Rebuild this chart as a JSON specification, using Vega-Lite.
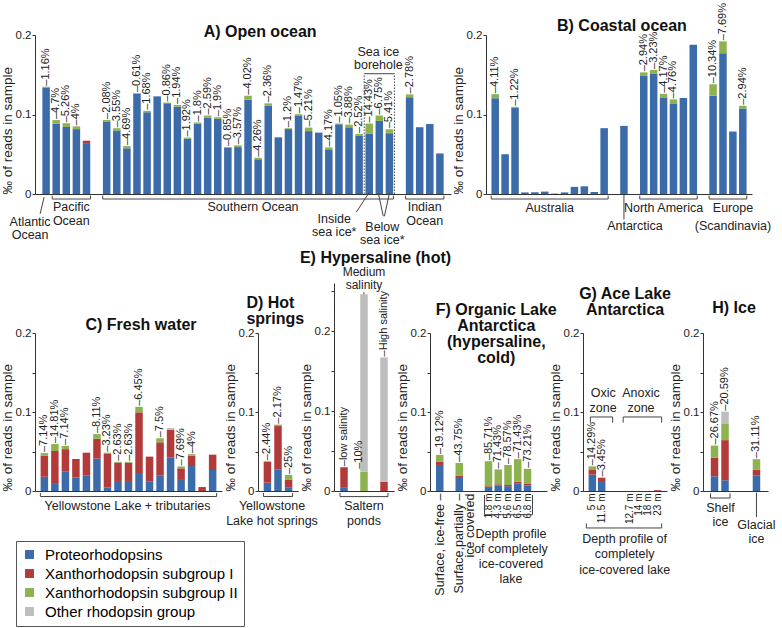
{
"$schema":"https://vega.github.io/schema/vega-lite/v6.json",
"padding":{"left":0,"top":3,"right":2,"bottom":2},
"config":{
 "font":"Liberation Sans",
 "view":{"stroke":null},
 "axis":{"grid":false,"domainColor":"#333","tickColor":"#333","labelColor":"#222","titleColor":"#222","labelOverlap":false},
 "axisY":{"tickSize":3,"labelFontSize":11.5,"titleFontSize":13.5,"titleFontWeight":"normal","labelPadding":1,"titlePadding":1,"titleAnchor":"start"},
 "axisX":{"ticks":false,"labels":false},
 "text":{"color":"#222","fontSize":12.5},
 "rule":{"color":"#444"},
 "legend":{"orient":"none","legendX":-19,"legendY":506,"labelFontSize":15,"symbolType":"square","symbolSize":80,"strokeColor":"#555","padding":6,"rowPadding":3,"labelOffset":8,"labelLimit":300}
},
"datasets":{
 "A":[
  {"b":"a01","P":0.1334,"XII":0.0016,"lab":"–1.16%"},
  {"b":"a02","P":0.0886,"XII":0.0044,"lab":"–4.7%"},
  {"b":"a03","P":0.0843,"XII":0.0047,"lab":"–5.26%"},
  {"b":"a04","P":0.0816,"XII":0.0034,"lab":"–4%"},
  {"b":"a05","P":0.064,"XI":0.003},
  {"b":"s01","P":0.0913,"XII":0.0019,"lab":"–2.08%"},
  {"b":"s02","P":0.0798,"XII":0.0029,"lab":"–3.55%"},
  {"b":"s03","P":0.0575,"XII":0.0028,"lab":"–4.69%"},
  {"b":"s04","P":0.1262,"XII":0.0008,"lab":"–0.61%"},
  {"b":"s05","P":0.1028,"XII":0.0018,"lab":"–1.68%"},
  {"b":"s06","P":0.1228},
  {"b":"s07","P":0.114,"XII":0.001,"lab":"–0.86%"},
  {"b":"s08","P":0.1098,"XII":0.0022,"lab":"–1.94%"},
  {"b":"s09","P":0.0696,"XII":0.0014,"lab":"–1.92%"},
  {"b":"s10","P":0.0884,"XII":0.0016,"lab":"–1.8%"},
  {"b":"s11","P":0.0961,"XII":0.0026,"lab":"–2.59%"},
  {"b":"s12","P":0.0948,"XII":0.0018,"lab":"–1.9%"},
  {"b":"s13","P":0.0585,"XII":0.0005,"lab":"–0.85%"},
  {"b":"s14","P":0.059,"XII":0.0022,"lab":"–3.57%"},
  {"b":"s15","P":0.1186,"XII":0.005,"lab":"–4.02%"},
  {"b":"s16","P":0.0437,"XII":0.0019,"lab":"–4.26%"},
  {"b":"s17","P":0.1113,"XII":0.0027,"lab":"–2.36%"},
  {"b":"s18","P":0.0713},
  {"b":"s19","P":0.0817,"XII":0.001,"lab":"–1.2%"},
  {"b":"s20","P":0.0989,"XII":0.0015,"lab":"–1.47%"},
  {"b":"s21","P":0.0791,"XII":0.0044,"lab":"–5.21%"},
  {"b":"s22","P":0.0772},
  {"b":"s23","P":0.0562,"XII":0.0024,"lab":"–4.17%"},
  {"b":"s24","P":0.0877,"XII":0.0009,"lab":"–1.05%"},
  {"b":"s25","P":0.0839,"XII":0.0034,"lab":"–3.88%"},
  {"b":"s26","P":0.0736,"XII":0.0019,"lab":"–2.52%"},
  {"b":"s27","P":0.0758,"XII":0.0128,"lab":"–14.43%"},
  {"b":"s28","P":0.092,"XII":0.0067,"lab":"–6.75%"},
  {"b":"s29","P":0.0763,"XI":0.0007,"XII":0.0044,"lab":"–5.41%"},
  {"b":"i01","P":0.1218,"XII":0.0035,"lab":"–2.78%"},
  {"b":"i02","P":0.084},
  {"b":"i03","P":0.088},
  {"b":"i04","P":0.051}
 ],
 "B":[
  {"b":"b01","P":0.1204,"XII":0.0052,"lab":"–4.11%"},
  {"b":"b02","P":0.05},
  {"b":"b03","P":0.1084,"XII":0.0013,"lab":"–1.22%"},
  {"b":"b04","P":0.002},
  {"b":"b05","P":0.0022},
  {"b":"b06","P":0.003},
  {"b":"b07","P":0.0005},
  {"b":"b08","P":0.002},
  {"b":"b09","P":0.009},
  {"b":"b10","P":0.0097},
  {"b":"b11","P":0.0025},
  {"b":"b12","P":0.0828},
  {"b":"b13","P":0.0857},
  {"b":"b14","P":0.1485,"XII":0.0045,"lab":"–2.94%"},
  {"b":"b15","P":0.151,"XII":0.005,"lab":"–3.23%"},
  {"b":"b16","P":0.1207,"XII":0.0053,"lab":"–4.17%"},
  {"b":"b17","P":0.1133,"XII":0.0057,"lab":"–4.76%"},
  {"b":"b18","P":0.1206},
  {"b":"b19","P":0.1878},
  {"b":"b20","P":0.1237,"XII":0.0143,"lab":"–10.34%"},
  {"b":"b21","P":0.1772,"XII":0.0148,"lab":"–7.69%"},
  {"b":"b22","P":0.0786},
  {"b":"b23","P":0.1077,"XII":0.0033,"lab":"–2.94%"}
 ],
 "C":[
  {"b":"c01","P":0.018,"XI":0.0265,"XII":0.0035,"lab":"–7.14%"},
  {"b":"c02","P":0.009,"XI":0.0416,"XII":0.0088,"lab":"–14.81%"},
  {"b":"c03","P":0.025,"XI":0.028,"XII":0.0041,"lab":"–7.14%"},
  {"b":"c04","P":0.0173,"XI":0.0232},
  {"b":"c05","P":0.0194,"XI":0.0291},
  {"b":"c06","P":0.041,"XI":0.0252,"XII":0.0058,"lab":"–8.11%"},
  {"b":"c07","P":0.0046,"XI":0.0423,"XII":0.0016,"lab":"–3.23%"},
  {"b":"c08","P":0.0127,"XI":0.0232,"XII":0.001,"lab":"–2.63%"},
  {"b":"c09","P":0.0127,"XI":0.0232,"XII":0.001,"lab":"–2.63%"},
  {"b":"c10","P":0.0228,"XI":0.0768,"XII":0.0069,"lab":"–6.45%"},
  {"b":"c11","P":0.0118,"XI":0.0317},
  {"b":"c12","P":0.0194,"XI":0.0422,"XII":0.0051,"lab":"–7.5%"},
  {"b":"c13","P":0.0426,"XI":0.0346,"other":0.0025},
  {"b":"c14","P":0.014,"XI":0.0147,"XII":0.0024,"lab":"–7.69%"},
  {"b":"c15","P":0.0316,"XI":0.0131,"XII":0.0019,"lab":"–4%"},
  {"b":"c16","XI":0.005},
  {"b":"c17","P":0.0266,"XI":0.0194}
 ],
 "D":[
  {"b":"d01","P":0.0106,"XI":0.0263,"XII":0.0009,"lab":"–2.44%"},
  {"b":"d02","P":0.027,"XI":0.0552,"XII":0.0018,"lab":"–2.17%"},
  {"b":"d03","P":0.0042,"XI":0.0104,"XII":0.0055,"lab":"–25%"}
 ],
 "E":[
  {"b":"e01","P":0.004,"XI":0.0257,"lab":"–low salinity"},
  {"b":"e02","XII":0.024,"other":0.222},
  {"b":"e03","XI":0.0114,"other":0.1556,"lab":"–High salinity"}
 ],
 "F":[
  {"b":"f01","P":0.033,"XI":0.0039,"XII":0.0088,"lab":"–19.12%"},
  {"b":"f02","P":0.0165,"XI":0.003,"XII":0.016,"lab":"–43.75%"},
  {"b":"f03","P":0.005,"XI":0.001,"XII":0.0317,"lab":"–85.71%"},
  {"b":"f04","P":0.0068,"XI":0.0017,"XII":0.0188,"lab":"–71.43%"},
  {"b":"f05","P":0.006,"XI":0.0016,"XII":0.0253,"lab":"–78.57%"},
  {"b":"f06","P":0.0097,"XI":0.0022,"XII":0.0284,"lab":"–71.43%"},
  {"b":"f07","P":0.0068,"XI":0.0021,"XII":0.0192,"lab":"–73.21%"}
 ],
 "G":[
  {"b":"g01","P":0.0208,"XI":0.0058,"XII":0.0046,"lab":"–14.29%"},
  {"b":"g02","P":0.0127,"XI":0.0038,"XII":0.0006,"lab":"–3.45%"},
  {"b":"g03"},{"b":"g04"},{"b":"g05"},
  {"b":"g06","XI":0.001}
 ],
 "H":[
  {"b":"h01","P":0.0186,"XI":0.0234,"XII":0.0155,"lab":"–26.67%"},
  {"b":"h02","P":0.0136,"XI":0.0508,"XII":0.0212,"other":0.0148,"lab":"–20.59%"},
  {"b":"h03","P":0.0199,"XI":0.0071,"XII":0.0133,"lab":"–31.11%"}
 ],
 "A_br":[{"b1":"a02","b2":"a05"},{"b1":"s01","b2":"s29"},{"b1":"i01","b2":"i04"}],
 "B_br":[{"b1":"b01","b2":"b12"},{"b1":"b14","b2":"b19"},{"b1":"b20","b2":"b23"}],
 "C_br":[{"b1":"c01","b2":"c17"}],
 "D_br":[{"b1":"d01","b2":"d03"}],
 "E_br":[{"b1":"e01","b2":"e03"}],
 "H_br":[{"b1":"h01","b2":"h02"}]
},
"spacing":2,
"resolve":{"scale":{"color":"shared"}},
"vconcat":[
{"hconcat":[
 {"width":416,"height":159,
  "layer":[
   {"data":{"name":"A"},"mark":{"type":"bar","width":7.5},
    "transform":[{"fold":["P","XI","XII","other"],"as":["k","v"]},{"filter":"datum.v > 0"}],
    "encoding":{
     "x":{"field":"b","type":"nominal","scale":{"domain":["a01","a02","a03","a04","a05","ga","s01","s02","s03","s04","s05","s06","s07","s08","s09","s10","s11","s12","s13","s14","s15","s16","s17","s18","s19","s20","s21","s22","s23","s24","s25","s26","s27","s28","s29","gb","i01","i02","i03","i04"],"paddingInner":0,"paddingOuter":0.6},"axis":{"title":null}},
     "y":{"field":"v","type":"quantitative","stack":"zero","scale":{"domain":[0,0.2],"nice":false},"axis":{"title":"‰ of reads in sample","values":[0,0.025,0.05,0.075,0.1,0.125,0.15,0.175,0.2],"labelExpr":"datum.value==0?'0':datum.value==0.1?'0.1':datum.value==0.2?'0.2':''"}},
     "order":{"field":"k","type":"ordinal","sort":"ascending"},
     "color":{"field":"k","type":"nominal","scale":{"domain":["P","XI","XII","other"],"range":["#3b6ba8","#b33a3a","#8db24f","#bdbdbd"]},"legend":{"title":null,"labelExpr":"datum.value=='P'?'Proteorhodopsins':datum.value=='XI'?'Xanthorhodopsin subgroup I':datum.value=='XII'?'Xanthorhodopsin subgroup II':'Other rhodopsin group'"}}
    }},
   {"data":{"name":"A"},"transform":[{"filter":"isValid(datum.lab)"},{"fold":["P","XI","XII","other"],"as":["k","v"]},{"aggregate":[{"op":"sum","field":"v","as":"tot"}],"groupby":["b","lab"]}],
    "mark":{"type":"text","angle":270,"align":"left","baseline":"middle","fontSize":11,"dx":1},
    "encoding":{"x":{"field":"b","type":"nominal"},"y":{"field":"tot","type":"quantitative"},"text":{"field":"lab"}}},
   {"data":{"values":[{}]},"mark":{"type":"text","fontSize":16,"fontWeight":"bold","color":"#111","dx":2},"encoding":{"x":{"datum":"s16","type":"nominal"},"y":{"datum":0.2044},"text":{"value":"A) Open ocean"}}},
   {"data":{"name":"A_br"},"mark":{"type":"rule","xOffset":-4,"x2Offset":4},"encoding":{"x":{"field":"b1","type":"nominal"},"x2":{"field":"b2"},"y":{"datum":-0.0063}}},
   {"data":{"name":"A_br"},"mark":{"type":"rule","xOffset":-4},"encoding":{"x":{"field":"b1","type":"nominal"},"y":{"datum":-0.0063},"y2":{"datum":-0.002}}},
   {"data":{"name":"A_br"},"mark":{"type":"rule","xOffset":4},"encoding":{"x":{"field":"b2","type":"nominal"},"y":{"datum":-0.0063},"y2":{"datum":-0.002}}},
   {"data":{"values":[{}]},"mark":{"type":"text","baseline":"top","dx":5,"lineHeight":14},"encoding":{"x":{"datum":"a03","type":"nominal"},"y":{"datum":-0.0088},"text":{"value":["Pacific","Ocean"]}}},
   {"data":{"values":[{}]},"mark":{"type":"text","baseline":"top","dx":5},"encoding":{"x":{"datum":"s15","type":"nominal"},"y":{"datum":-0.0088},"text":{"value":"Southern Ocean"}}},
   {"data":{"values":[{}]},"mark":{"type":"text","baseline":"top","dx":5,"lineHeight":14},"encoding":{"x":{"datum":"i02","type":"nominal"},"y":{"datum":-0.0088},"text":{"value":["Indian","Ocean"]}}},
   {"data":{"values":[{}]},"mark":{"type":"text","baseline":"top","dx":-16,"lineHeight":13},"encoding":{"x":{"datum":"a01","type":"nominal"},"y":{"datum":-0.0277},"text":{"value":["Atlantic","Ocean"]}}},
   {"data":{"values":[{}]},"mark":{"type":"rule","xOffset":-2,"x2Offset":-6},"encoding":{"x":{"datum":"a01","type":"nominal"},"x2":{"datum":"a01"},"y":{"datum":-0.004},"y2":{"datum":-0.025}}},
   {"data":{"values":[{}]},"mark":{"type":"text","baseline":"top","dx":-35,"lineHeight":13},"encoding":{"x":{"datum":"s27","type":"nominal"},"y":{"datum":-0.0245},"text":{"value":["Inside","sea ice*"]}}},
   {"data":{"values":[{}]},"mark":{"type":"rule","xOffset":0,"x2Offset":-13},"encoding":{"x":{"datum":"s27","type":"nominal"},"x2":{"datum":"s27"},"y":{"datum":0.002},"y2":{"datum":-0.023}}},
   {"data":{"values":[{}]},"mark":{"type":"text","baseline":"top","dx":3,"lineHeight":13},"encoding":{"x":{"datum":"s28","type":"nominal"},"y":{"datum":-0.0335},"text":{"value":["Below","sea ice*"]}}},
   {"data":{"values":[{}]},"mark":{"type":"rule","xOffset":-1,"x2Offset":4},"encoding":{"x":{"datum":"s28","type":"nominal"},"x2":{"datum":"s28"},"y":{"datum":0.001},"y2":{"datum":-0.028}}},
   {"data":{"values":[{}]},"mark":{"type":"rule","xOffset":0,"x2Offset":-5},"encoding":{"x":{"datum":"s29","type":"nominal"},"x2":{"datum":"s29"},"y":{"datum":0.001},"y2":{"datum":-0.028}}},
   {"data":{"values":[{}]},"mark":{"type":"text","baseline":"bottom","dx":-1,"lineHeight":13},"encoding":{"x":{"datum":"s28","type":"nominal"},"y":{"datum":0.1697},"text":{"value":["Sea ice","borehole"]}}},
   {"data":{"values":[{}]},"mark":{"type":"rule","xOffset":-5,"x2Offset":5},"encoding":{"x":{"datum":"s27","type":"nominal"},"x2":{"datum":"s29"},"y":{"datum":0.1513}}},
   {"data":{"values":[{}]},"mark":{"type":"rule","xOffset":-5,"strokeDash":[1.5,1.5]},"encoding":{"x":{"datum":"s27","type":"nominal"},"y":{"datum":0},"y2":{"datum":0.1513}}},
   {"data":{"values":[{}]},"mark":{"type":"rule","xOffset":5,"strokeDash":[1.5,1.5]},"encoding":{"x":{"datum":"s29","type":"nominal"},"y":{"datum":0},"y2":{"datum":0.1513}}}
  ]},
 {"width":266,"height":159,
  "layer":[
   {"data":{"name":"B"},"mark":{"type":"bar","width":7.5},
    "transform":[{"fold":["P","XI","XII","other"],"as":["k","v"]},{"filter":"datum.v > 0"}],
    "encoding":{
     "x":{"field":"b","type":"nominal","scale":{"domain":["b01","b02","b03","b04","b05","b06","b07","b08","b09","b10","b11","b12","gc","b13","gd","b14","b15","b16","b17","b18","b19","ge","b20","b21","b22","b23"],"paddingInner":0,"paddingOuter":0.43},"axis":{"title":null}},
     "y":{"field":"v","type":"quantitative","stack":"zero","scale":{"domain":[0,0.2],"nice":false},"axis":{"title":"‰ of reads in sample","values":[0,0.025,0.05,0.075,0.1,0.125,0.15,0.175,0.2],"labelExpr":"datum.value==0?'0':datum.value==0.1?'0.1':datum.value==0.2?'0.2':''"}},
     "order":{"field":"k","type":"ordinal","sort":"ascending"},
     "color":{"field":"k","type":"nominal","scale":{"domain":["P","XI","XII","other"],"range":["#3b6ba8","#b33a3a","#8db24f","#bdbdbd"]},"legend":{"title":null,"labelExpr":"datum.value=='P'?'Proteorhodopsins':datum.value=='XI'?'Xanthorhodopsin subgroup I':datum.value=='XII'?'Xanthorhodopsin subgroup II':'Other rhodopsin group'"}}
    }},
   {"data":{"name":"B"},"transform":[{"filter":"isValid(datum.lab)"},{"fold":["P","XI","XII","other"],"as":["k","v"]},{"aggregate":[{"op":"sum","field":"v","as":"tot"}],"groupby":["b","lab"]}],
    "mark":{"type":"text","angle":270,"align":"left","baseline":"middle","fontSize":11,"dx":1},
    "encoding":{"x":{"field":"b","type":"nominal"},"y":{"field":"tot","type":"quantitative"},"text":{"field":"lab"}}},
   {"data":{"values":[{}]},"mark":{"type":"text","fontSize":16,"fontWeight":"bold","color":"#111","dx":-2},"encoding":{"x":{"datum":"b13","type":"nominal"},"y":{"datum":0.2113},"text":{"value":"B) Coastal ocean"}}},
   {"data":{"name":"B_br"},"mark":{"type":"rule","xOffset":-4,"x2Offset":4},"encoding":{"x":{"field":"b1","type":"nominal"},"x2":{"field":"b2"},"y":{"datum":-0.0063}}},
   {"data":{"name":"B_br"},"mark":{"type":"rule","xOffset":-4},"encoding":{"x":{"field":"b1","type":"nominal"},"y":{"datum":-0.0063},"y2":{"datum":-0.002}}},
   {"data":{"name":"B_br"},"mark":{"type":"rule","xOffset":4},"encoding":{"x":{"field":"b2","type":"nominal"},"y":{"datum":-0.0063},"y2":{"datum":-0.002}}},
   {"data":{"values":[{}]},"mark":{"type":"text","baseline":"top","dx":5},"encoding":{"x":{"datum":"b06","type":"nominal"},"y":{"datum":-0.0095},"text":{"value":"Australia"}}},
   {"data":{"values":[{}]},"mark":{"type":"text","baseline":"top","dx":0},"encoding":{"x":{"datum":"b16","type":"nominal"},"y":{"datum":-0.0095},"text":{"value":"North America"}}},
   {"data":{"values":[{}]},"mark":{"type":"text","baseline":"top","dx":10,"lineHeight":18},"encoding":{"x":{"datum":"b21","type":"nominal"},"y":{"datum":-0.0095},"text":{"value":["Europe","(Scandinavia)"]}}},
   {"data":{"values":[{}]},"mark":{"type":"rule"},"encoding":{"x":{"datum":"b13","type":"nominal"},"y":{"datum":-0.001},"y2":{"datum":-0.032}}},
   {"data":{"values":[{}]},"mark":{"type":"text","baseline":"top","dx":11},"encoding":{"x":{"datum":"b13","type":"nominal"},"y":{"datum":-0.0325},"text":{"value":"Antarctica"}}}
  ]}
 ],"bounds":"flush","spacing":35,"resolve":{"scale":{"color":"shared"}}},
{"hconcat":[
 {"width":187,"height":208,
  "layer":[
   {"data":{"name":"C"},"mark":{"type":"bar","width":7.5},
    "transform":[{"fold":["P","XI","XII","other"],"as":["k","v"]},{"filter":"datum.v > 0"}],
    "encoding":{
     "x":{"field":"b","type":"nominal","scale":{"domain":["c01","c02","c03","c04","c05","c06","c07","c08","c09","c10","c11","c12","c13","c14","c15","c16","c17"],"paddingInner":0,"paddingOuter":0.39},"axis":{"title":null}},
     "y":{"field":"v","type":"quantitative","stack":"zero","scale":{"domain":[0,0.2],"nice":false,"range":[208,50]},"axis":{"title":"‰ of reads in sample","values":[0,0.025,0.05,0.075,0.1,0.125,0.15,0.175,0.2],"labelExpr":"datum.value==0?'0':datum.value==0.1?'0.1':datum.value==0.2?'0.2':''"}},
     "order":{"field":"k","type":"ordinal","sort":"ascending"},
     "color":{"field":"k","type":"nominal","scale":{"domain":["P","XI","XII","other"],"range":["#3b6ba8","#b33a3a","#8db24f","#bdbdbd"]},"legend":{"title":null,"labelExpr":"datum.value=='P'?'Proteorhodopsins':datum.value=='XI'?'Xanthorhodopsin subgroup I':datum.value=='XII'?'Xanthorhodopsin subgroup II':'Other rhodopsin group'"}}
    }},
   {"data":{"name":"C"},"transform":[{"filter":"isValid(datum.lab)"},{"fold":["P","XI","XII","other"],"as":["k","v"]},{"aggregate":[{"op":"sum","field":"v","as":"tot"}],"groupby":["b","lab"]}],
    "mark":{"type":"text","angle":270,"align":"left","baseline":"middle","fontSize":11,"dx":1},
    "encoding":{"x":{"field":"b","type":"nominal"},"y":{"field":"tot","type":"quantitative"},"text":{"field":"lab"}}},
   {"data":{"values":[{}]},"mark":{"type":"text","fontSize":16,"fontWeight":"bold","color":"#111","dx":2},"encoding":{"x":{"datum":"c10","type":"nominal"},"y":{"datum":0.2101},"text":{"value":"C) Fresh water"}}},
   {"data":{"name":"C_br"},"mark":{"type":"rule","xOffset":-4,"x2Offset":4},"encoding":{"x":{"field":"b1","type":"nominal"},"x2":{"field":"b2"},"y":{"datum":-0.007}}},
   {"data":{"name":"C_br"},"mark":{"type":"rule","xOffset":-4},"encoding":{"x":{"field":"b1","type":"nominal"},"y":{"datum":-0.007},"y2":{"datum":-0.0025}}},
   {"data":{"name":"C_br"},"mark":{"type":"rule","xOffset":4},"encoding":{"x":{"field":"b2","type":"nominal"},"y":{"datum":-0.007},"y2":{"datum":-0.0025}}},
   {"data":{"values":[{}]},"mark":{"type":"text","baseline":"top","dx":-1},"encoding":{"x":{"datum":"c09","type":"nominal"},"y":{"datum":-0.0114},"text":{"value":"Yellowstone Lake + tributaries"}}}
  ]},
 {"width":40,"height":208,
  "layer":[
   {"data":{"name":"D"},"mark":{"type":"bar","width":7.5},
    "transform":[{"fold":["P","XI","XII","other"],"as":["k","v"]},{"filter":"datum.v > 0"}],
    "encoding":{
     "x":{"field":"b","type":"nominal","scale":{"domain":["d01","d02","d03"],"paddingInner":0,"paddingOuter":0.39},"axis":{"title":null}},
     "y":{"field":"v","type":"quantitative","stack":"zero","scale":{"domain":[0,0.2],"nice":false,"range":[208,50]},"axis":{"title":"‰ of reads in sample","values":[0,0.025,0.05,0.075,0.1,0.125,0.15,0.175,0.2],"labelExpr":"datum.value==0?'0':datum.value==0.1?'0.1':datum.value==0.2?'0.2':''"}},
     "order":{"field":"k","type":"ordinal","sort":"ascending"},
     "color":{"field":"k","type":"nominal","scale":{"domain":["P","XI","XII","other"],"range":["#3b6ba8","#b33a3a","#8db24f","#bdbdbd"]},"legend":{"title":null,"labelExpr":"datum.value=='P'?'Proteorhodopsins':datum.value=='XI'?'Xanthorhodopsin subgroup I':datum.value=='XII'?'Xanthorhodopsin subgroup II':'Other rhodopsin group'"}}
    }},
   {"data":{"name":"D"},"transform":[{"filter":"isValid(datum.lab)"},{"fold":["P","XI","XII","other"],"as":["k","v"]},{"aggregate":[{"op":"sum","field":"v","as":"tot"}],"groupby":["b","lab"]}],
    "mark":{"type":"text","angle":270,"align":"left","baseline":"middle","fontSize":11,"dx":1},
    "encoding":{"x":{"field":"b","type":"nominal"},"y":{"field":"tot","type":"quantitative"},"text":{"field":"lab"}}},
   {"data":{"values":[{}]},"mark":{"type":"text","fontSize":16,"fontWeight":"bold","color":"#111","align":"left","dx":-21,"lineHeight":16},"encoding":{"x":{"datum":"d01","type":"nominal"},"y":{"datum":0.2385},"text":{"value":["D) Hot","springs"]}}},
   {"data":{"name":"D_br"},"mark":{"type":"rule","xOffset":-4,"x2Offset":4},"encoding":{"x":{"field":"b1","type":"nominal"},"x2":{"field":"b2"},"y":{"datum":-0.007}}},
   {"data":{"name":"D_br"},"mark":{"type":"rule","xOffset":-4},"encoding":{"x":{"field":"b1","type":"nominal"},"y":{"datum":-0.007},"y2":{"datum":-0.0025}}},
   {"data":{"name":"D_br"},"mark":{"type":"rule","xOffset":4},"encoding":{"x":{"field":"b2","type":"nominal"},"y":{"datum":-0.007},"y2":{"datum":-0.0025}}},
   {"data":{"values":[{}]},"mark":{"type":"text","baseline":"top","dx":-6,"lineHeight":15},"encoding":{"x":{"datum":"d02","type":"nominal"},"y":{"datum":-0.0114},"text":{"value":["Yellowstone","Lake hot springs"]}}}
  ]},
 {"width":60,"height":208,
  "layer":[
   {"data":{"name":"E"},"mark":{"type":"bar","width":7.5},
    "transform":[{"fold":["P","XI","XII","other"],"as":["k","v"]},{"filter":"datum.v > 0"}],
    "encoding":{
     "x":{"field":"b","type":"nominal","scale":{"domain":["e01","e02","e03"],"paddingInner":0,"paddingOuter":0},"axis":{"title":null}},
     "y":{"field":"v","type":"quantitative","stack":"zero","scale":{"domain":[0,0.26],"nice":false},"axis":{"title":"‰ of reads in sample","values":[0,0.025,0.05,0.075,0.1,0.125,0.15,0.175,0.2,0.225,0.25,0.26],"labelExpr":"datum.value==0?'0':datum.value==0.1?'0.1':datum.value==0.2?'0.2':datum.value==0.26?'0.26':''"}},
     "order":{"field":"k","type":"ordinal","sort":"ascending"},
     "color":{"field":"k","type":"nominal","scale":{"domain":["P","XI","XII","other"],"range":["#3b6ba8","#b33a3a","#8db24f","#bdbdbd"]},"legend":{"title":null,"labelExpr":"datum.value=='P'?'Proteorhodopsins':datum.value=='XI'?'Xanthorhodopsin subgroup I':datum.value=='XII'?'Xanthorhodopsin subgroup II':'Other rhodopsin group'"}}
    }},
   {"data":{"name":"E"},"transform":[{"filter":"isValid(datum.lab)"},{"fold":["P","XI","XII","other"],"as":["k","v"]},{"aggregate":[{"op":"sum","field":"v","as":"tot"}],"groupby":["b","lab"]}],
    "mark":{"type":"text","angle":270,"align":"left","baseline":"middle","fontSize":11,"dx":1},
    "encoding":{"x":{"field":"b","type":"nominal"},"y":{"field":"tot","type":"quantitative"},"text":{"field":"lab"}}},
   {"data":{"values":[{}]},"mark":{"type":"text","fontSize":16,"fontWeight":"bold","color":"#111","dx":11.5},"encoding":{"x":{"datum":"e02","type":"nominal"},"y":{"datum":0.2918},"text":{"value":"E) Hypersaline (hot)"}}},
   {"data":{"name":"E_br"},"mark":{"type":"rule","xOffset":-4,"x2Offset":4},"encoding":{"x":{"field":"b1","type":"nominal"},"x2":{"field":"b2"},"y":{"datum":-0.007}}},
   {"data":{"name":"E_br"},"mark":{"type":"rule","xOffset":-4},"encoding":{"x":{"field":"b1","type":"nominal"},"y":{"datum":-0.007},"y2":{"datum":-0.0025}}},
   {"data":{"name":"E_br"},"mark":{"type":"rule","xOffset":4},"encoding":{"x":{"field":"b2","type":"nominal"},"y":{"datum":-0.007},"y2":{"datum":-0.0025}}},
   {"data":{"values":[{}]},"mark":{"type":"text","baseline":"top","lineHeight":15},"encoding":{"x":{"datum":"e02","type":"nominal"},"y":{"datum":-0.0114},"text":{"value":["Saltern","ponds"]}}},
   {"data":{"values":[{}]},"mark":{"type":"text","angle":270,"align":"left","baseline":"middle","fontSize":11,"dx":3,"dy":-5},"encoding":{"x":{"datum":"e02","type":"nominal"},"y":{"datum":0.024},"text":{"value":"–10%"}}},
   {"data":{"values":[{}]},"mark":{"type":"text","baseline":"bottom","fontSize":12,"lineHeight":13},"encoding":{"x":{"datum":"e02","type":"nominal"},"y":{"datum":0.2652},"text":{"value":["Medium","salinity"]}}},
   {"data":{"values":[{}]},"mark":{"type":"rule"},"encoding":{"x":{"datum":"e02","type":"nominal"},"y":{"datum":0.246},"y2":{"datum":0.2485}}}
  ]},
 {"width":117,"height":208,
  "layer":[
   {"data":{"name":"F"},"mark":{"type":"bar","width":7.5},
    "transform":[{"fold":["P","XI","XII","other"],"as":["k","v"]},{"filter":"datum.v > 0"}],
    "encoding":{
     "x":{"field":"b","type":"nominal","scale":{"domain":["f01","gf1","f02","gf2","gf3","f03","f04","f05","f06","f07","gf4"],"paddingInner":0,"paddingOuter":0.5},
      "axis":{"title":null,"labels":true,"labelAngle":270,"labelPadding":2,"labelLineHeight":11,"labelColor":"#222",
       "labelFontSize":{"condition":{"test":"datum.value=='f01'||datum.value=='f02'","value":12.5},"value":10},
       "labelFont":{"condition":{"test":"datum.value=='f01'||datum.value=='f02'","value":"Liberation Sans"},"value":"Liberation Sans Narrow, Liberation Sans"},
       "labelExpr":"datum.value=='f01'?'Surface, ice-free –':datum.value=='f02'?['Surface,partially –','ice covered']:datum.value=='f03'?'1.8 m':datum.value=='f04'?'4.3 m':datum.value=='f05'?'5.6 m':datum.value=='f06'?'6.5 m':datum.value=='f07'?'6.8 m':''"}},
     "y":{"field":"v","type":"quantitative","stack":"zero","scale":{"domain":[0,0.2],"nice":false,"range":[208,50]},"axis":{"title":"‰ of reads in sample","values":[0,0.025,0.05,0.075,0.1,0.125,0.15,0.175,0.2],"labelExpr":"datum.value==0?'0':datum.value==0.1?'0.1':datum.value==0.2?'0.2':''"}},
     "order":{"field":"k","type":"ordinal","sort":"ascending"},
     "color":{"field":"k","type":"nominal","scale":{"domain":["P","XI","XII","other"],"range":["#3b6ba8","#b33a3a","#8db24f","#bdbdbd"]},"legend":{"title":null,"labelExpr":"datum.value=='P'?'Proteorhodopsins':datum.value=='XI'?'Xanthorhodopsin subgroup I':datum.value=='XII'?'Xanthorhodopsin subgroup II':'Other rhodopsin group'"}}
    }},
   {"data":{"name":"F"},"transform":[{"filter":"isValid(datum.lab)"},{"fold":["P","XI","XII","other"],"as":["k","v"]},{"aggregate":[{"op":"sum","field":"v","as":"tot"}],"groupby":["b","lab"]}],
    "mark":{"type":"text","angle":270,"align":"left","baseline":"middle","fontSize":11,"dx":1},
    "encoding":{"x":{"field":"b","type":"nominal"},"y":{"field":"tot","type":"quantitative"},"text":{"field":"lab"}}},
   {"data":{"values":[{}]},"mark":{"type":"text","fontSize":16,"fontWeight":"bold","color":"#111","dx":-2,"lineHeight":16},"encoding":{"x":{"datum":"f04","type":"nominal"},"y":{"datum":0.2291},"text":{"value":["F) Organic Lake","Antarctica","(hypersaline,","cold)"]}}},
   {"data":{"values":[{}]},"mark":{"type":"rule","xOffset":-4,"x2Offset":5},"encoding":{"x":{"datum":"f03","type":"nominal"},"x2":{"datum":"f07"},"y":{"datum":-0.03}}},
   {"data":{"values":[{}]},"mark":{"type":"rule","xOffset":-4},"encoding":{"x":{"datum":"f03","type":"nominal"},"y":{"datum":-0.03},"y2":{"datum":-0.005}}},
   {"data":{"values":[{}]},"mark":{"type":"rule","xOffset":5},"encoding":{"x":{"datum":"f07","type":"nominal"},"y":{"datum":-0.03},"y2":{"datum":-0.005}}},
   {"data":{"values":[{}]},"mark":{"type":"text","baseline":"top","dx":3,"lineHeight":15},"encoding":{"x":{"datum":"f05","type":"nominal"},"y":{"datum":-0.0468},"text":{"value":["Depth profile","of completely","ice-covered","lake"]}}}
  ]},
 {"width":84,"height":208,
  "layer":[
   {"data":{"name":"G"},"mark":{"type":"bar","width":7.5},
    "transform":[{"fold":["P","XI","XII","other"],"as":["k","v"]},{"filter":"datum.v > 0"}],
    "encoding":{
     "x":{"field":"b","type":"nominal","scale":{"domain":["g01","g02","gg1","gg2","g03","g04","g05","g06"],"paddingInner":0,"paddingOuter":0.5},
      "axis":{"title":null,"labels":true,"labelAngle":270,"labelPadding":2,"labelColor":"#222","labelFontSize":10,"labelFont":"Liberation Sans Narrow, Liberation Sans",
       "labelExpr":"datum.value=='g01'?'5 m':datum.value=='g02'?'11.5 m':datum.value=='g03'?'12.7 m':datum.value=='g04'?'14 m':datum.value=='g05'?'18 m':datum.value=='g06'?'23 m':''"}},
     "y":{"field":"v","type":"quantitative","stack":"zero","scale":{"domain":[0,0.2],"nice":false,"range":[208,50]},"axis":{"title":"‰ of reads in sample","values":[0,0.025,0.05,0.075,0.1,0.125,0.15,0.175,0.2],"labelExpr":"datum.value==0?'0':datum.value==0.1?'0.1':datum.value==0.2?'0.2':''"}},
     "order":{"field":"k","type":"ordinal","sort":"ascending"},
     "color":{"field":"k","type":"nominal","scale":{"domain":["P","XI","XII","other"],"range":["#3b6ba8","#b33a3a","#8db24f","#bdbdbd"]},"legend":{"title":null,"labelExpr":"datum.value=='P'?'Proteorhodopsins':datum.value=='XI'?'Xanthorhodopsin subgroup I':datum.value=='XII'?'Xanthorhodopsin subgroup II':'Other rhodopsin group'"}}
    }},
   {"data":{"name":"G"},"transform":[{"filter":"isValid(datum.lab)"},{"fold":["P","XI","XII","other"],"as":["k","v"]},{"aggregate":[{"op":"sum","field":"v","as":"tot"}],"groupby":["b","lab"]}],
    "mark":{"type":"text","angle":270,"align":"left","baseline":"middle","fontSize":11,"dx":1},
    "encoding":{"x":{"field":"b","type":"nominal"},"y":{"field":"tot","type":"quantitative"},"text":{"field":"lab"}}},
   {"data":{"values":[{}]},"mark":{"type":"text","fontSize":16,"fontWeight":"bold","color":"#111","dx":-4.6,"lineHeight":16},"encoding":{"x":{"datum":"g03","type":"nominal"},"y":{"datum":0.2494},"text":{"value":["G) Ace Lake","Antarctica"]}}},
   {"data":{"values":[{}]},"mark":{"type":"rule","xOffset":-2,"x2Offset":11},"encoding":{"x":{"datum":"g01","type":"nominal"},"x2":{"datum":"g02"},"y":{"datum":0.0937}}},
   {"data":{"values":[{}]},"mark":{"type":"rule","xOffset":-2},"encoding":{"x":{"datum":"g01","type":"nominal"},"y":{"datum":0.0937},"y2":{"datum":0.0865}}},
   {"data":{"values":[{}]},"mark":{"type":"rule","xOffset":11},"encoding":{"x":{"datum":"g02","type":"nominal"},"y":{"datum":0.0937},"y2":{"datum":0.0865}}},
   {"data":{"values":[{}]},"mark":{"type":"rule","xOffset":-6.5,"x2Offset":4},"encoding":{"x":{"datum":"g03","type":"nominal"},"x2":{"datum":"g06"},"y":{"datum":0.0937}}},
   {"data":{"values":[{}]},"mark":{"type":"rule","xOffset":-6.5},"encoding":{"x":{"datum":"g03","type":"nominal"},"y":{"datum":0.0937},"y2":{"datum":0.0865}}},
   {"data":{"values":[{}]},"mark":{"type":"rule","xOffset":4},"encoding":{"x":{"datum":"g06","type":"nominal"},"y":{"datum":0.0937},"y2":{"datum":0.0865}}},
   {"data":{"values":[{}]},"mark":{"type":"text","baseline":"bottom","dx":1.5,"lineHeight":15},"encoding":{"x":{"datum":"g02","type":"nominal"},"y":{"datum":0.1152},"text":{"value":["Oxic","zone"]}}},
   {"data":{"values":[{}]},"mark":{"type":"text","baseline":"bottom","dx":2,"lineHeight":15},"encoding":{"x":{"datum":"g04","type":"nominal"},"y":{"datum":0.1152},"text":{"value":["Anoxic","zone"]}}},
   {"data":{"values":[{}]},"mark":{"type":"rule","xOffset":-6,"x2Offset":4},"encoding":{"x":{"datum":"g01","type":"nominal"},"x2":{"datum":"g06"},"y":{"datum":-0.0468}}},
   {"data":{"values":[{}]},"mark":{"type":"rule","xOffset":-6},"encoding":{"x":{"datum":"g01","type":"nominal"},"y":{"datum":-0.0468},"y2":{"datum":-0.041}}},
   {"data":{"values":[{}]},"mark":{"type":"rule","xOffset":4},"encoding":{"x":{"datum":"g06","type":"nominal"},"y":{"datum":-0.0468},"y2":{"datum":-0.041}}},
   {"data":{"values":[{}]},"mark":{"type":"text","baseline":"top","dx":-5,"lineHeight":15.5},"encoding":{"x":{"datum":"g03","type":"nominal"},"y":{"datum":-0.053},"text":{"value":["Depth profile of","completely","ice-covered lake"]}}}
  ]},
 {"width":65,"height":208,
  "layer":[
   {"data":{"name":"H"},"mark":{"type":"bar","width":7.5},
    "transform":[{"fold":["P","XI","XII","other"],"as":["k","v"]},{"filter":"datum.v > 0"}],
    "encoding":{
     "x":{"field":"b","type":"nominal","scale":{"domain":["h01","h02","gh1","gh2","h03"],"paddingInner":0,"paddingOuter":0.6},"axis":{"title":null}},
     "y":{"field":"v","type":"quantitative","stack":"zero","scale":{"domain":[0,0.2],"nice":false,"range":[208,50]},"axis":{"title":"‰ of reads in sample","values":[0,0.025,0.05,0.075,0.1,0.125,0.15,0.175,0.2],"labelExpr":"datum.value==0?'0':datum.value==0.1?'0.1':datum.value==0.2?'0.2':''"}},
     "order":{"field":"k","type":"ordinal","sort":"ascending"},
     "color":{"field":"k","type":"nominal","scale":{"domain":["P","XI","XII","other"],"range":["#3b6ba8","#b33a3a","#8db24f","#bdbdbd"]},"legend":{"title":null,"labelExpr":"datum.value=='P'?'Proteorhodopsins':datum.value=='XI'?'Xanthorhodopsin subgroup I':datum.value=='XII'?'Xanthorhodopsin subgroup II':'Other rhodopsin group'"}}
    }},
   {"data":{"name":"H"},"transform":[{"filter":"isValid(datum.lab)"},{"fold":["P","XI","XII","other"],"as":["k","v"]},{"aggregate":[{"op":"sum","field":"v","as":"tot"}],"groupby":["b","lab"]}],
    "mark":{"type":"text","angle":270,"align":"left","baseline":"middle","fontSize":11,"dx":1},
    "encoding":{"x":{"field":"b","type":"nominal"},"y":{"field":"tot","type":"quantitative"},"text":{"field":"lab"}}},
   {"data":{"values":[{}]},"mark":{"type":"text","fontSize":16,"fontWeight":"bold","color":"#111","dx":-1.5},"encoding":{"x":{"datum":"gh1","type":"nominal"},"y":{"datum":0.2316},"text":{"value":"H) Ice"}}},
   {"data":{"name":"H_br"},"mark":{"type":"rule","xOffset":-4,"x2Offset":5},"encoding":{"x":{"field":"b1","type":"nominal"},"x2":{"field":"b2"},"y":{"datum":-0.0089}}},
   {"data":{"name":"H_br"},"mark":{"type":"rule","xOffset":-4},"encoding":{"x":{"field":"b1","type":"nominal"},"y":{"datum":-0.0089},"y2":{"datum":-0.003}}},
   {"data":{"name":"H_br"},"mark":{"type":"rule","xOffset":5},"encoding":{"x":{"field":"b2","type":"nominal"},"y":{"datum":-0.0089},"y2":{"datum":-0.003}}},
   {"data":{"values":[{}]},"mark":{"type":"text","baseline":"top","dx":6,"lineHeight":14},"encoding":{"x":{"datum":"h01","type":"nominal"},"y":{"datum":-0.0139},"text":{"value":["Shelf","ice"]}}},
   {"data":{"values":[{}]},"mark":{"type":"rule"},"encoding":{"x":{"datum":"h03","type":"nominal"},"y":{"datum":-0.002},"y2":{"datum":-0.033}}},
   {"data":{"values":[{}]},"mark":{"type":"text","baseline":"top","lineHeight":14},"encoding":{"x":{"datum":"h03","type":"nominal"},"y":{"datum":-0.0354},"text":{"value":["Glacial","ice"]}}}
  ]}
 ],"bounds":"flush","spacing":36,"resolve":{"scale":{"color":"shared"}}}
]
}
